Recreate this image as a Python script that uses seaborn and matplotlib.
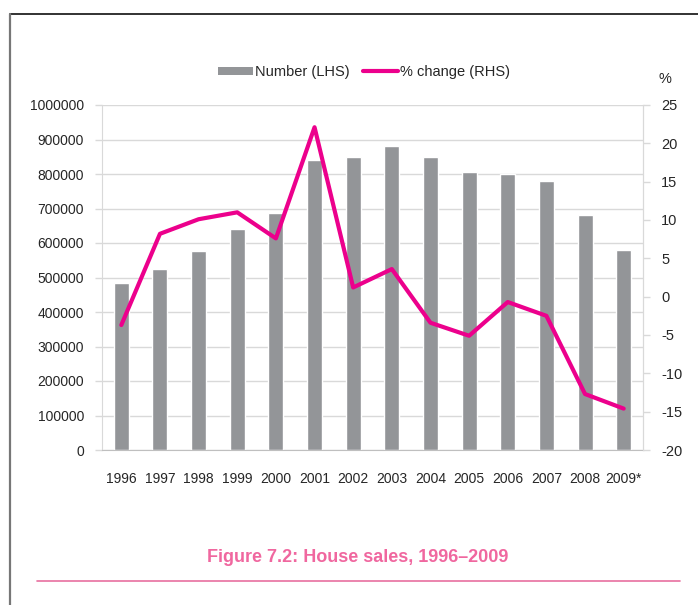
import numpy as np
import matplotlib
matplotlib.use("Agg")
import matplotlib.pyplot as plt
from matplotlib.lines import Line2D
from matplotlib.patches import Patch
import seaborn as sns

years = ["1996", "1997", "1998", "1999", "2000", "2001", "2002",
         "2003", "2004", "2005", "2006", "2007", "2008", "2009*"]
sales = [485000, 524000, 577000, 641000, 688000, 840000, 849000,
         880000, 850000, 806000, 800000, 781000, 680000, 580000]
pct_change = [-3.7, 8.2, 10.1, 11.0, 7.6, 22.1, 1.2,
              3.6, -3.4, -5.1, -0.7, -2.5, -12.7, -14.6]

lhs_ticks = list(range(0, 1000001, 100000))
rhs_ticks = list(range(-20, 26, 5))

bar_color = "#939598"
line_color = "#EC008C"
title_color = "#F0679F"
grid_color = "#D9D9D9"

sns.set_style("white")
plt.rcParams["font.family"] = ["Liberation Sans", "DejaVu Sans"]

fig = plt.figure(figsize=(6.98, 6.05), dpi=100)
ax = fig.add_axes([102 / 698, 1 - 450 / 605, (643 - 102) / 698, (450 - 105) / 605])

# bars on left axis
sns.barplot(x=years, y=sales, color=bar_color, saturation=1, width=0.39, ax=ax, zorder=2)
ax.set_ylim(0, 1000000)
ax.set_xlim(-0.5, len(years) - 0.5)
ax.set_yticks(lhs_ticks)
ax.set_yticklabels([str(v) for v in lhs_ticks], fontsize=10)
ax.set_xticks(range(len(years)))
ax.set_xticklabels(years, fontsize=10)
ax.set_xticks(np.arange(-0.5, len(years), 1.0), minor=True)
ax.tick_params(axis="x", which="major", length=0, pad=16)
ax.tick_params(axis="x", which="minor", length=5, color="#BFBFBF", width=1)
ax.tick_params(axis="y", length=5, color=grid_color, width=1, pad=8, left=True)
ax.yaxis.grid(True, color=grid_color, linewidth=1)
ax.set_axisbelow(True)
ax.set_xlabel("")
ax.set_ylabel("")
ax.spines["top"].set_visible(False)
ax.spines["left"].set_color(grid_color)
ax.spines["bottom"].set_color("#BFBFBF")
ax.spines["right"].set_color(grid_color)

# % change on right axis
ax2 = ax.twinx()
sns.lineplot(x=np.arange(len(years)), y=pct_change, color=line_color,
             linewidth=3, ax=ax2, zorder=3)
ax2.set_ylim(-20, 25)
ax2.set_yticks(rhs_ticks)
ax2.set_yticklabels([str(v) for v in rhs_ticks], fontsize=10.5)
ax2.tick_params(axis="y", length=5, color=grid_color, width=1, pad=8, right=True)
ax2.set_xlim(-0.5, len(years) - 0.5)
ax2.grid(False)
ax2.spines["top"].set_visible(False)
ax2.spines["left"].set_visible(False)
ax2.spines["bottom"].set_visible(False)
ax2.spines["right"].set_color(grid_color)
ax2.set_ylabel("")

fig.text(665 / 698, 1 - 79 / 605, "%", fontsize=10.5, ha="center", va="center")

handles = [Patch(facecolor=bar_color, edgecolor="none"),
           Line2D([0], [0], color=line_color, linewidth=3)]
fig.legend(handles, ["Number (LHS)", "% change (RHS)"], loc="center",
           bbox_to_anchor=(364 / 698, 1 - 72 / 605), ncol=2, frameon=False,
           fontsize=10.5, handlelength=2.4, handleheight=0.45,
           handletextpad=0.15, columnspacing=0.9)

fig.text(358 / 698, 1 - 558 / 605, "Figure 7.2: House sales, 1996\u20132009",
         fontsize=13, fontweight="bold", color=title_color, ha="center", va="center")

# frame and rule
fig.add_artist(Line2D([37 / 698, 680 / 698], [1 - 581 / 605] * 2,
                      color="#E8709F", linewidth=1.2))
fig.add_artist(Line2D([9.5 / 698, 1], [1 - 13.5 / 605] * 2, color="#222222", linewidth=1.3))
fig.add_artist(Line2D([9.5 / 698] * 2, [0, 1 - 13.5 / 605], color="#777777", linewidth=1.6))

fig.savefig("out.png", dpi=100)
